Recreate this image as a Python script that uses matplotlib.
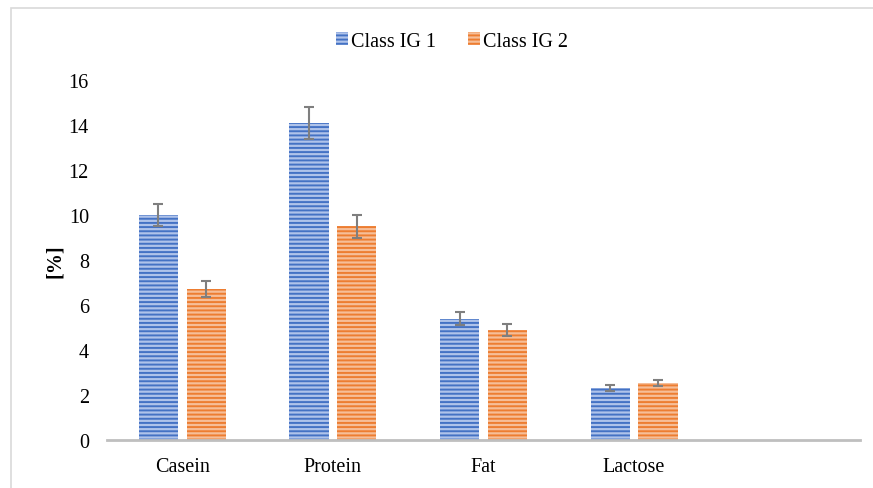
import numpy as np
import matplotlib
matplotlib.use("Agg")
import matplotlib.pyplot as plt
from matplotlib.patches import Rectangle, Patch

categories = ["Casein", "Protein", "Fat", "Lactose", ""]
series = ["Class IG 1", "Class IG 2"]
ig1_vals = [10.0, 14.1, 5.4, 2.3]
ig1_err = [0.5, 0.7, 0.3, 0.13]
ig2_vals = [6.7, 9.5, 4.9, 2.55]
ig2_err = [0.35, 0.5, 0.27, 0.13]

plt.rcParams["font.family"] = ["Liberation Serif", "DejaVu Serif"]
plt.rcParams["hatch.linewidth"] = 1.4

fig = plt.figure(figsize=(8.73, 4.89), dpi=100)
ax = fig.add_axes([107 / 873, 1 - 441 / 489, 753 / 873, 360 / 489])

x = np.arange(len(ig1_vals))
w = 0.26
off = 0.159
face_blue, line_blue = "#AFC3EA", "#4472C4"
face_orange, line_orange = "#F6BE98", "#ED7D31"
err_kw = dict(ecolor="#7F7F7F", elinewidth=1.5, capsize=3.6, capthick=1.5)

ax.bar(x - off, ig1_vals, w, yerr=ig1_err, color=face_blue, edgecolor=line_blue,
       linewidth=0, hatch="----", error_kw=err_kw, zorder=2)
ax.bar(x + off, ig2_vals, w, yerr=ig2_err, color=face_orange, edgecolor=line_orange,
       linewidth=0, hatch="----", error_kw=err_kw, zorder=2)

ax.set_xlim(-0.5, len(categories) - 0.5)
ax.set_ylim(0, 16)
ax.set_yticks(np.arange(0, 17, 2))
ax.set_xticks(np.arange(len(categories)))
ax.set_xticklabels(categories)
ax.tick_params(axis="both", length=0, labelsize=14.5, colors="#000000")
ax.tick_params(axis="x", pad=12)
ax.tick_params(axis="y", pad=13)
for s in ["top", "right", "left"]:
    ax.spines[s].set_visible(False)
ax.spines["bottom"].set_color("#BFBFBF")
ax.spines["bottom"].set_linewidth(2)
ax.set_ylabel("[%]", fontsize=14.5, fontweight="bold", labelpad=3)

handles = [Patch(facecolor=face_blue, edgecolor=line_blue, linewidth=0, hatch="----"),
           Patch(facecolor=face_orange, edgecolor=line_orange, linewidth=0, hatch="----")]
fig.legend(handles, series, loc="center", bbox_to_anchor=(0.518, 0.914), ncol=2,
           frameon=False, fontsize=14.5, handlelength=0.6, handleheight=0.6,
           handletextpad=0.15, columnspacing=1.6)

fig.patches.append(Rectangle((11 / 873, -0.1), 1.2, 1.1 - 9 / 489, transform=fig.transFigure,
                             fill=False, edgecolor="#D9D9D9", linewidth=1.2, clip_on=False))

fig.savefig("out.png", dpi=100)
